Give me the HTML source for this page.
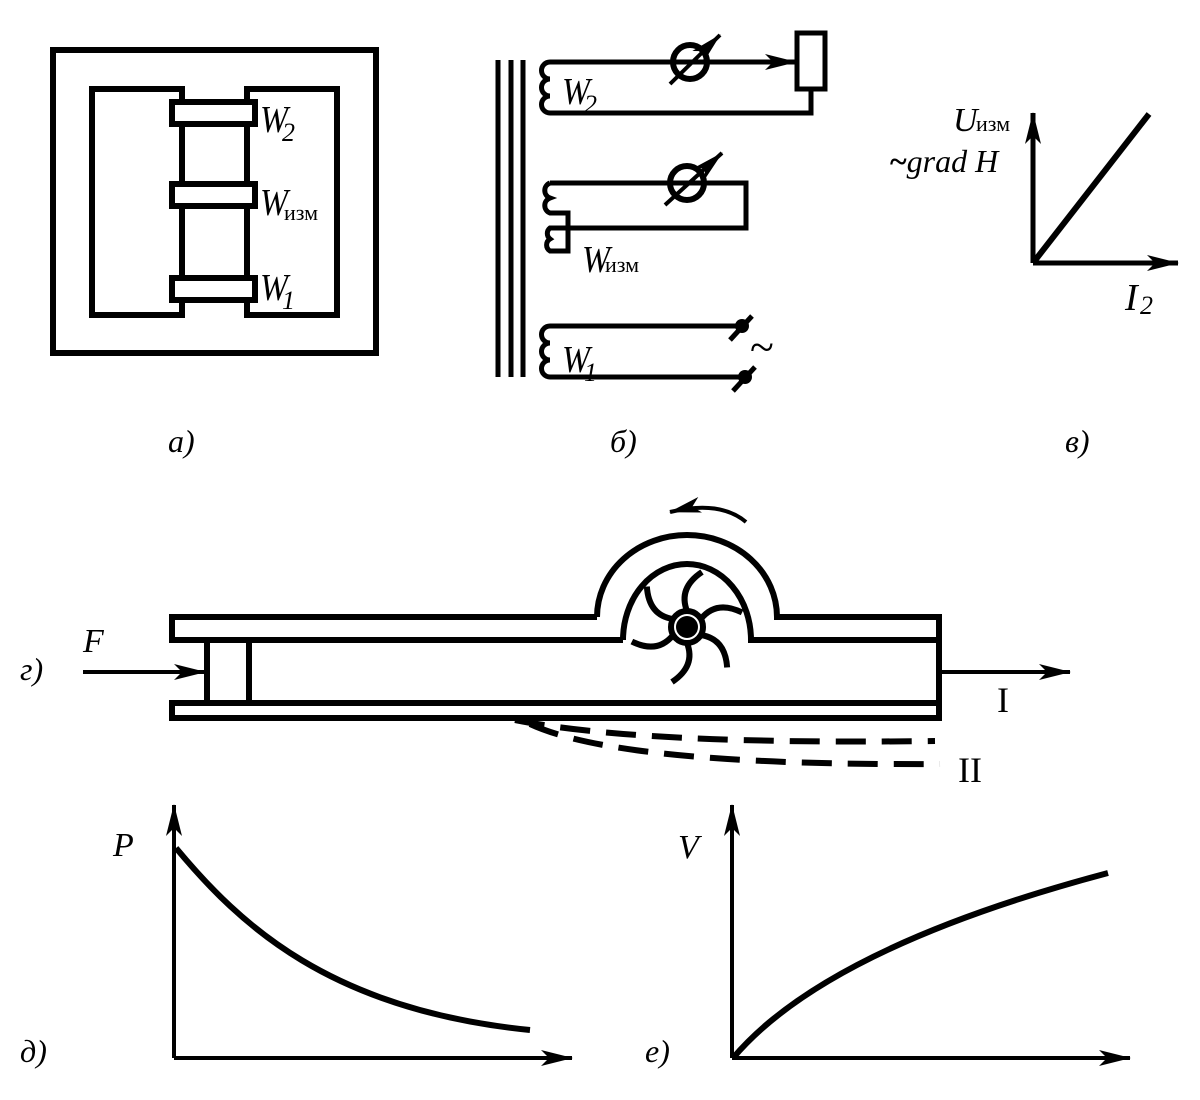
<!DOCTYPE html>
<html><head><meta charset="utf-8"><style>
html,body{margin:0;padding:0;background:#fff}
svg{display:block}
text{font-family:"Liberation Serif","DejaVu Serif",serif;fill:#000}
.i{font-style:italic}
</style></head><body>
<svg width="1200" height="1100" viewBox="0 0 1200 1100" xmlns="http://www.w3.org/2000/svg">
<defs>
<marker id="ar" viewBox="0 0 24 12" refX="23" refY="6" markerWidth="24" markerHeight="12" markerUnits="userSpaceOnUse" orient="auto">
<path d="M0,0 L24,6 L0,12 L6,6 Z" fill="#000"/></marker>
<marker id="ar2" viewBox="0 0 32 16" refX="31" refY="8" markerWidth="32" markerHeight="16" markerUnits="userSpaceOnUse" orient="auto">
<path d="M0,0 L32,8 L0,16 L8,8 Z" fill="#000"/></marker>
</defs>
<g fill="none" stroke="#000" stroke-width="6">
<!-- panel a -->
<rect x="53" y="50" width="323" height="303"/>
<path d="M182,104 V89 H92 V315 H182 V300"/>
<path d="M247,104 V89 H337 V315 H247 V300"/>
<path d="M182,126 V183 M247,126 V183 M182,207 V277 M247,207 V277"/>
<rect x="172" y="102" width="83" height="22"/>
<rect x="172" y="184" width="83" height="22"/>
<rect x="172" y="278" width="83" height="22"/>
</g>
<text x="260" y="132" class="i" font-size="38" textLength="28" lengthAdjust="spacingAndGlyphs">W</text><text x="282" y="141" class="i" font-size="26">2</text>
<text x="260" y="215" class="i" font-size="38" textLength="28" lengthAdjust="spacingAndGlyphs">W</text><text x="284" y="220" font-size="22">изм</text>
<text x="260" y="300" class="i" font-size="38" textLength="28" lengthAdjust="spacingAndGlyphs">W</text><text x="282" y="309" class="i" font-size="26">1</text>
<text x="168" y="452" class="i" font-size="32">а)</text>

<!-- panel b -->
<g fill="none" stroke="#000" stroke-width="5">
<path d="M498,60 V377 M511,60 V377 M523,60 V377"/>
<path d="M797,62 H550 a8,8 0 0 0 0,17 a8,8 0 0 0 0,17 a8,8 0 0 0 0,17 H811 V89"/>
<rect x="797" y="33" width="28" height="56"/>
<circle cx="690" cy="62" r="17" stroke-width="6"/>
<path d="M550,183 a8,8 0 0 0 0,15 a8,8 0 0 0 0,15 H568 V251 H550 a7,7 0 0 1 0,-12 a7,7 0 0 1 0,-11 H746 V183 H550"/>
<circle cx="687" cy="183" r="17" stroke-width="6"/>
<path d="M742,326 H550 a8,8 0 0 0 0,17 a8,8 0 0 0 0,17 a8,8 0 0 0 0,17 H746"/>
</g>
<line x1="705" y1="62" x2="796" y2="62" stroke="#000" stroke-width="5" marker-end="url(#ar2)"/>
<line x1="670" y1="84" x2="720" y2="35" stroke="#000" stroke-width="4" marker-end="url(#ar2)"/>
<line x1="665" y1="205" x2="722" y2="153" stroke="#000" stroke-width="4" marker-end="url(#ar2)"/>
<circle cx="742" cy="326" r="7"/><line x1="730" y1="340" x2="752" y2="316" stroke="#000" stroke-width="5"/>
<circle cx="745" cy="377" r="7"/><line x1="733" y1="391" x2="755" y2="367" stroke="#000" stroke-width="5"/>
<text x="750" y="362" font-size="44">~</text>
<text x="562" y="104" class="i" font-size="38" textLength="28" lengthAdjust="spacingAndGlyphs">W</text><text x="584" y="113" class="i" font-size="26">2</text>
<text x="582" y="272" class="i" font-size="38" textLength="28" lengthAdjust="spacingAndGlyphs">W</text><text x="605" y="272" font-size="22">изм</text>
<text x="562" y="372" class="i" font-size="38" textLength="28" lengthAdjust="spacingAndGlyphs">W</text><text x="584" y="381" class="i" font-size="26">1</text>
<text x="610" y="452" class="i" font-size="32">б)</text>

<!-- panel v -->
<line x1="1033" y1="263" x2="1033" y2="113" stroke="#000" stroke-width="5" marker-end="url(#ar2)"/>
<line x1="1033" y1="263" x2="1178" y2="263" stroke="#000" stroke-width="5" marker-end="url(#ar2)"/>
<line x1="1033" y1="263" x2="1149" y2="114" stroke="#000" stroke-width="6"/>
<text x="953" y="131" class="i" font-size="34">U</text><text x="976" y="131" font-size="22">изм</text>
<text x="890" y="172" class="i" font-size="32"><tspan font-style="normal" font-weight="bold">~</tspan>grad H</text>
<text x="1125" y="310" class="i" font-size="38">I</text><text x="1140" y="314" class="i" font-size="26">2</text>
<text x="1065" y="452" class="i" font-size="32">в)</text>

<!-- panel g -->
<g fill="none" stroke="#000" stroke-width="6">
<path d="M597,617 H172 V640 H623"/>
<path d="M597,617 A90,82 0 0 1 777,617 H939"/>
<path d="M623,640 A64,76 0 0 1 751,640 H939"/>
<path d="M939,703 H172 V718 H939"/>
<path d="M939,614 V721"/>
<path d="M207,640 V703 M249,640 V703"/>
</g>
<line x1="83" y1="672" x2="205" y2="672" stroke="#000" stroke-width="4" marker-end="url(#ar2)"/>
<line x1="939" y1="672" x2="1070" y2="672" stroke="#000" stroke-width="4" marker-end="url(#ar2)"/>
<path d="M746,522 Q720,500 670,512" fill="none" stroke="#000" stroke-width="4" marker-end="url(#ar2)"/>
<g fill="none" stroke="#000" stroke-width="6">
<circle cx="687" cy="627" r="16"/>
<g id="bl"><path d="M687,611 Q678,588 702,572"/></g>
<use href="#bl" transform="rotate(60 687 627)"/>
<use href="#bl" transform="rotate(120 687 627)"/>
<use href="#bl" transform="rotate(180 687 627)"/>
<use href="#bl" transform="rotate(240 687 627)"/>
<use href="#bl" transform="rotate(300 687 627)"/>
</g>
<circle cx="687" cy="627" r="11" fill="#000"/>
<path d="M515,720 Q640,745 935,741" fill="none" stroke="#000" stroke-width="6" stroke-dasharray="30,16"/>
<path d="M530,724 Q620,766 940,764" fill="none" stroke="#000" stroke-width="6" stroke-dasharray="30,16"/>
<text x="20" y="680" class="i" font-size="32">г)</text>
<text x="83" y="652" class="i" font-size="34">F</text>
<text x="997" y="712" font-size="36">I</text>
<text x="958" y="782" font-size="36">II</text>

<!-- graph d -->
<line x1="174" y1="1058" x2="174" y2="805" stroke="#000" stroke-width="4" marker-end="url(#ar2)"/>
<line x1="174" y1="1058" x2="572" y2="1058" stroke="#000" stroke-width="4" marker-end="url(#ar2)"/>
<path d="M176,848 C240,925 330,1010 530,1030" fill="none" stroke="#000" stroke-width="6"/>
<text x="113" y="856" class="i" font-size="34">P</text>
<text x="20" y="1062" class="i" font-size="32">д)</text>

<!-- graph e -->
<line x1="732" y1="1058" x2="732" y2="805" stroke="#000" stroke-width="4" marker-end="url(#ar2)"/>
<line x1="732" y1="1058" x2="1130" y2="1058" stroke="#000" stroke-width="4" marker-end="url(#ar2)"/>
<path d="M733,1058 Q826,948 1108,873" fill="none" stroke="#000" stroke-width="6"/>
<text x="678" y="858" class="i" font-size="34">V</text>
<text x="645" y="1062" class="i" font-size="32">е)</text>
</svg>
</body></html>
